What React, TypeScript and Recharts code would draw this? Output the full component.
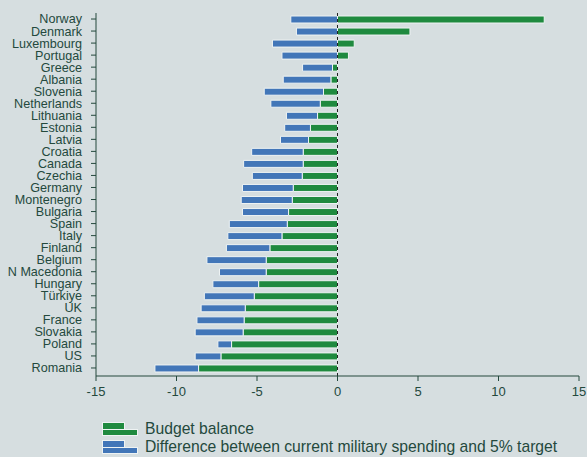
import React from 'react';
import { BarChart, Bar, XAxis, YAxis, ReferenceLine } from 'recharts';

const countries = [
  'Norway', 'Denmark', 'Luxembourg', 'Portugal', 'Greece', 'Albania', 'Slovenia',
  'Netherlands', 'Lithuania', 'Estonia', 'Latvia', 'Croatia', 'Canada', 'Czechia',
  'Germany', 'Montenegro', 'Bulgaria', 'Spain', 'Italy', 'Finland', 'Belgium',
  'N Macedonia', 'Hungary', 'Türkiye', 'UK', 'France', 'Slovakia', 'Poland', 'US', 'Romania',
];

const budgetBalance = [
  12.84, 4.5, 1.04, 0.68, -0.31, -0.41, -0.87, -1.07, -1.24, -1.68, -1.8, -2.13, -2.13, -2.19,
  -2.75, -2.81, -3.04, -3.12, -3.45, -4.2, -4.43, -4.43, -4.9, -5.17, -5.73, -5.8, -5.86,
  -6.58, -7.24, -8.63,
];

const militaryGap = [
  -2.9, -2.55, -4.04, -3.45, -1.86, -2.96, -3.68, -3.07, -1.93, -1.6, -1.74, -3.2, -3.7, -3.1,
  -3.15, -3.17, -2.86, -3.6, -3.36, -2.7, -3.68, -2.9, -2.84, -3.1, -2.74, -2.93, -2.98,
  -0.85, -1.6, -2.71,
];

const xTicks = [-15, -10, -5, 0, 5, 10, 15];

const BG = '#d6dee0';
const GREEN = '#1f8a3f';
const BLUE = '#4276b8';
const INK = '#24493d';

const data = countries.map((name, i) => ({
  name,
  budget: budgetBalance[i],
  gap: militaryGap[i],
}));

function LegendIcon({ color }: { color: string }) {
  return (
    <svg width={37} height={14} style={{ display: 'block' }}>
      <rect x={0.5} y={0.5} width={22} height={7} fill={color} stroke="#eef3f3" strokeWidth={1} />
      <rect x={0.5} y={7.5} width={35} height={6} fill={color} stroke="#eef3f3" strokeWidth={1} />
    </svg>
  );
}

export default function App() {
  return (
    <div
      style={{
        position: 'absolute',
        left: 0,
        top: 0,
        width: 587,
        height: 457,
        background: BG,
        fontFamily: '"Liberation Sans", Arial, sans-serif',
        overflow: 'hidden',
      }}
    >
      <BarChart
        width={587}
        height={457}
        data={data}
        layout="vertical"
        stackOffset="sign"
        barSize={7}
        margin={{ top: 13, right: 8, bottom: 51, left: 0 }}
      >
        <XAxis
          type="number"
          domain={[-15, 15]}
          ticks={xTicks}
          allowDataOverflow
          axisLine={{ stroke: INK }}
          tickLine={{ stroke: INK }}
          tickSize={5}
          tickMargin={6}
          height={30}
          tick={{ fill: INK, fontSize: 13 }}
        />
        <YAxis
          type="category"
          dataKey="name"
          width={96}
          interval={0}
          padding={{ top: 0, bottom: 2 }}
          axisLine={{ stroke: INK }}
          tickLine={{ stroke: INK }}
          tickSize={5}
          tickMargin={9}
          tick={{ fill: INK, fontSize: 12.6 }}
        />
        <Bar dataKey="budget" stackId="a" fill={GREEN} stroke="#eef3f3" strokeWidth={1} isAnimationActive={false} />
        <Bar dataKey="gap" stackId="a" fill={BLUE} stroke="#eef3f3" strokeWidth={1} isAnimationActive={false} />
        <ReferenceLine x={0} stroke="#222" strokeDasharray="3 3" />
      </BarChart>
      <div style={{ position: 'absolute', left: 102, top: 420, color: INK, fontSize: 15.7 }}>
        <div style={{ display: 'flex', alignItems: 'center', height: 18 }}>
          <LegendIcon color={GREEN} />
          <span style={{ marginLeft: 6 }}>Budget balance</span>
        </div>
        <div style={{ display: 'flex', alignItems: 'center', height: 18 }}>
          <LegendIcon color={BLUE} />
          <span style={{ marginLeft: 6 }}>Difference between current military spending and 5% target</span>
        </div>
      </div>
    </div>
  );
}
